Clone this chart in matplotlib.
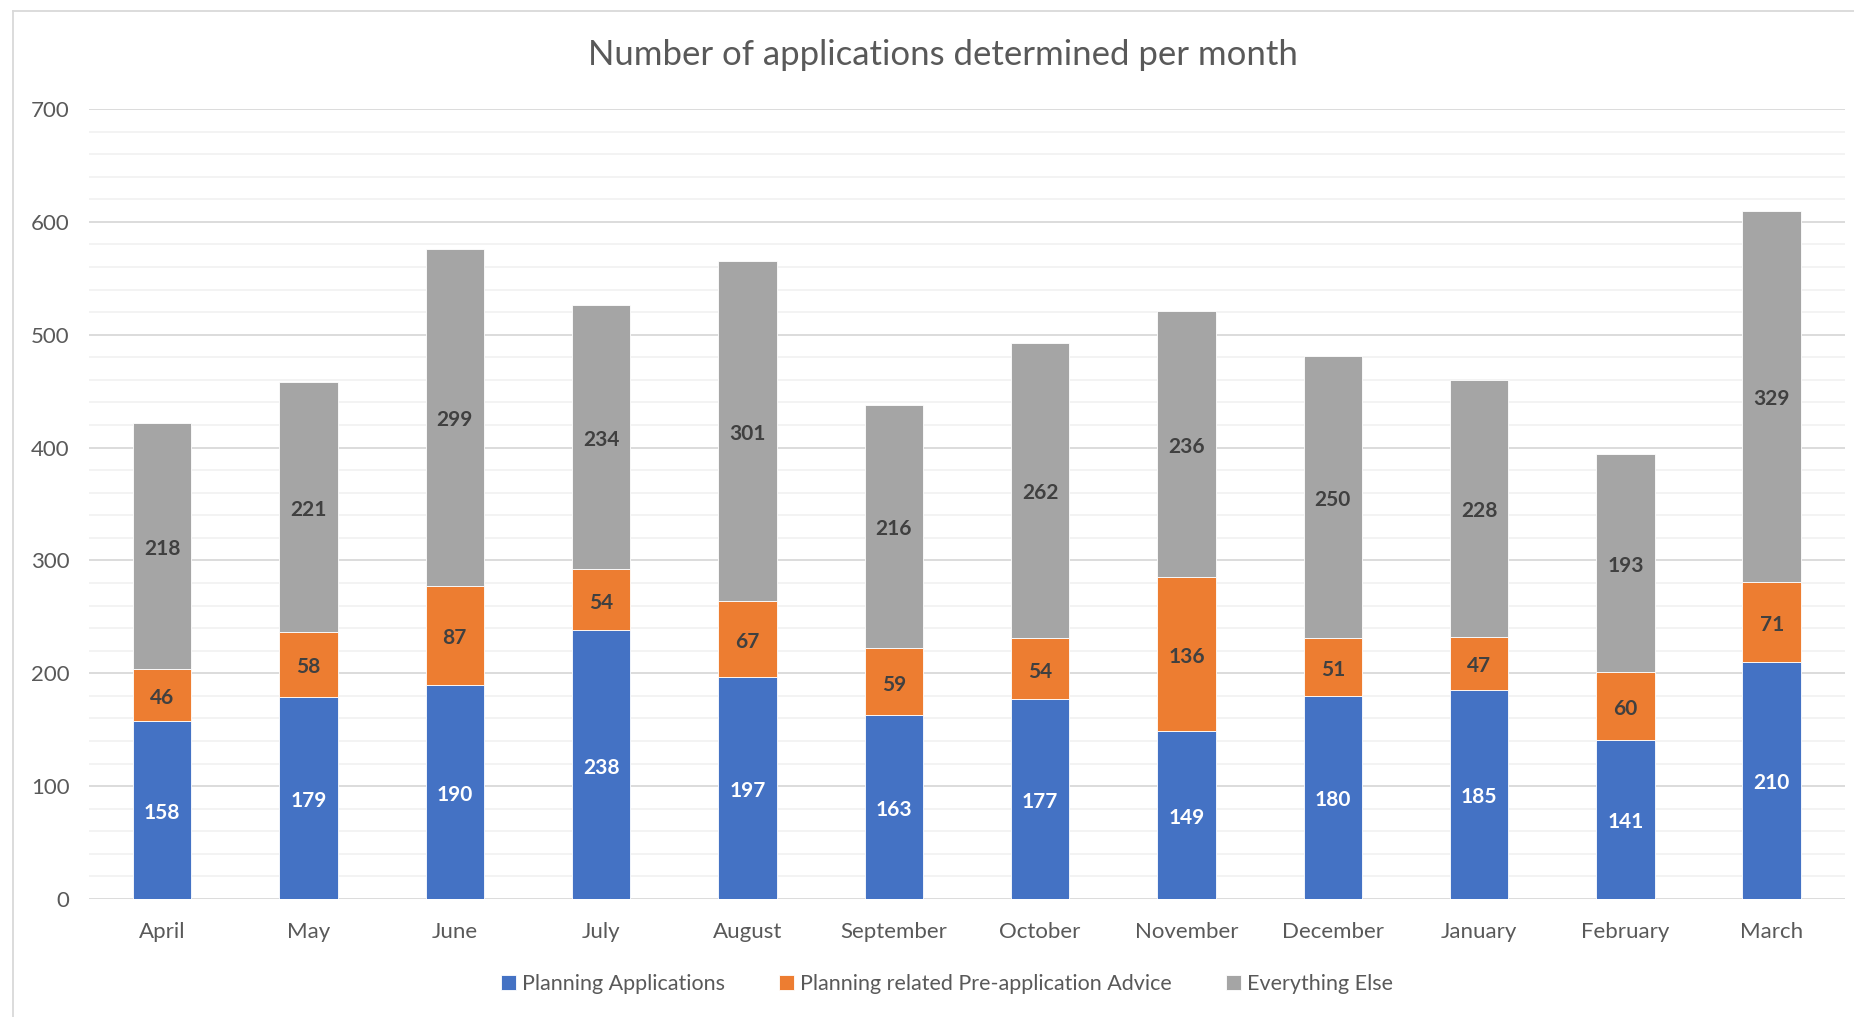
import matplotlib.pyplot as plt
import numpy as np
from matplotlib.lines import Line2D

months = ['April', 'May', 'June', 'July', 'August', 'September', 'October',
          'November', 'December', 'January', 'February', 'March']
planning = [158, 179, 190, 238, 197, 163, 177, 149, 180, 185, 141, 210]
pre_app = [46, 58, 87, 54, 67, 59, 54, 136, 51, 47, 60, 71]
everything_else = [218, 221, 299, 234, 301, 216, 262, 236, 250, 228, 193, 329]

series_names = ['Planning Applications', 'Planning related Pre-application Advice', 'Everything Else']
colors = ['#4472C4', '#ED7D31', '#A5A5A5']
label_colors = ['white', '#404040', '#404040']

plt.rcParams['font.family'] = ['Lato', 'DejaVu Sans']

fig = plt.figure(figsize=(18.54, 10.17), dpi=100)
ax = fig.add_axes([0.048, 0.116, 0.9471, 0.7768])

x = np.arange(len(months))
bottom = np.zeros(len(months))
for vals, name, col, lcol in zip([planning, pre_app, everything_else], series_names, colors, label_colors):
    bars = ax.bar(x, vals, width=0.4, bottom=bottom, color=col, label=name,
                  edgecolor='white', linewidth=0.6, zorder=3)
    ax.bar_label(bars, labels=[str(v) for v in vals], label_type='center',
                 color=lcol, fontsize=15, fontweight='bold', padding=-2)
    bottom += np.array(vals)

ax.set_xlim(-0.5, len(months) - 0.5)
ax.set_ylim(0, 700)
ax.set_yticks(range(0, 701, 100))
ax.set_yticks(range(0, 701, 20), minor=True)
ax.grid(axis='y', which='major', color='#D9D9D9', linewidth=1.3, zorder=0)
ax.grid(axis='y', which='minor', color='#F2F2F2', linewidth=1.3, zorder=0)
ax.set_xticks(x)
ax.set_xticklabels(months)
ax.tick_params(axis='both', which='both', length=0, labelsize=16, colors='#595959')
ax.tick_params(axis='x', pad=16.5)
ax.tick_params(axis='y', pad=14)
for s in ax.spines.values():
    s.set_visible(False)

fig.text(943 / 1854, 1 - 55 / 1017, 'Number of applications determined per month',
         ha='center', va='center', fontsize=25, color='#595959')

ax.legend(loc='center', bbox_to_anchor=(947 / 1854, 1 - 984 / 1017),
          bbox_transform=fig.transFigure, ncol=3, frameon=False, fontsize=15.5,
          labelcolor='#595959', handlelength=0.7, handleheight=0.7,
          handletextpad=0.3, columnspacing=2.5)

# chart area frame
fig.add_artist(Line2D([13 / 1854, 13 / 1854], [0, 1 - 11 / 1017], transform=fig.transFigure,
                      color='#D9D9D9', linewidth=1.3))
fig.add_artist(Line2D([13 / 1854, 1], [1 - 11 / 1017, 1 - 11 / 1017], transform=fig.transFigure,
                      color='#D9D9D9', linewidth=1.3))

fig.savefig('out.png', dpi=100, facecolor='white')
